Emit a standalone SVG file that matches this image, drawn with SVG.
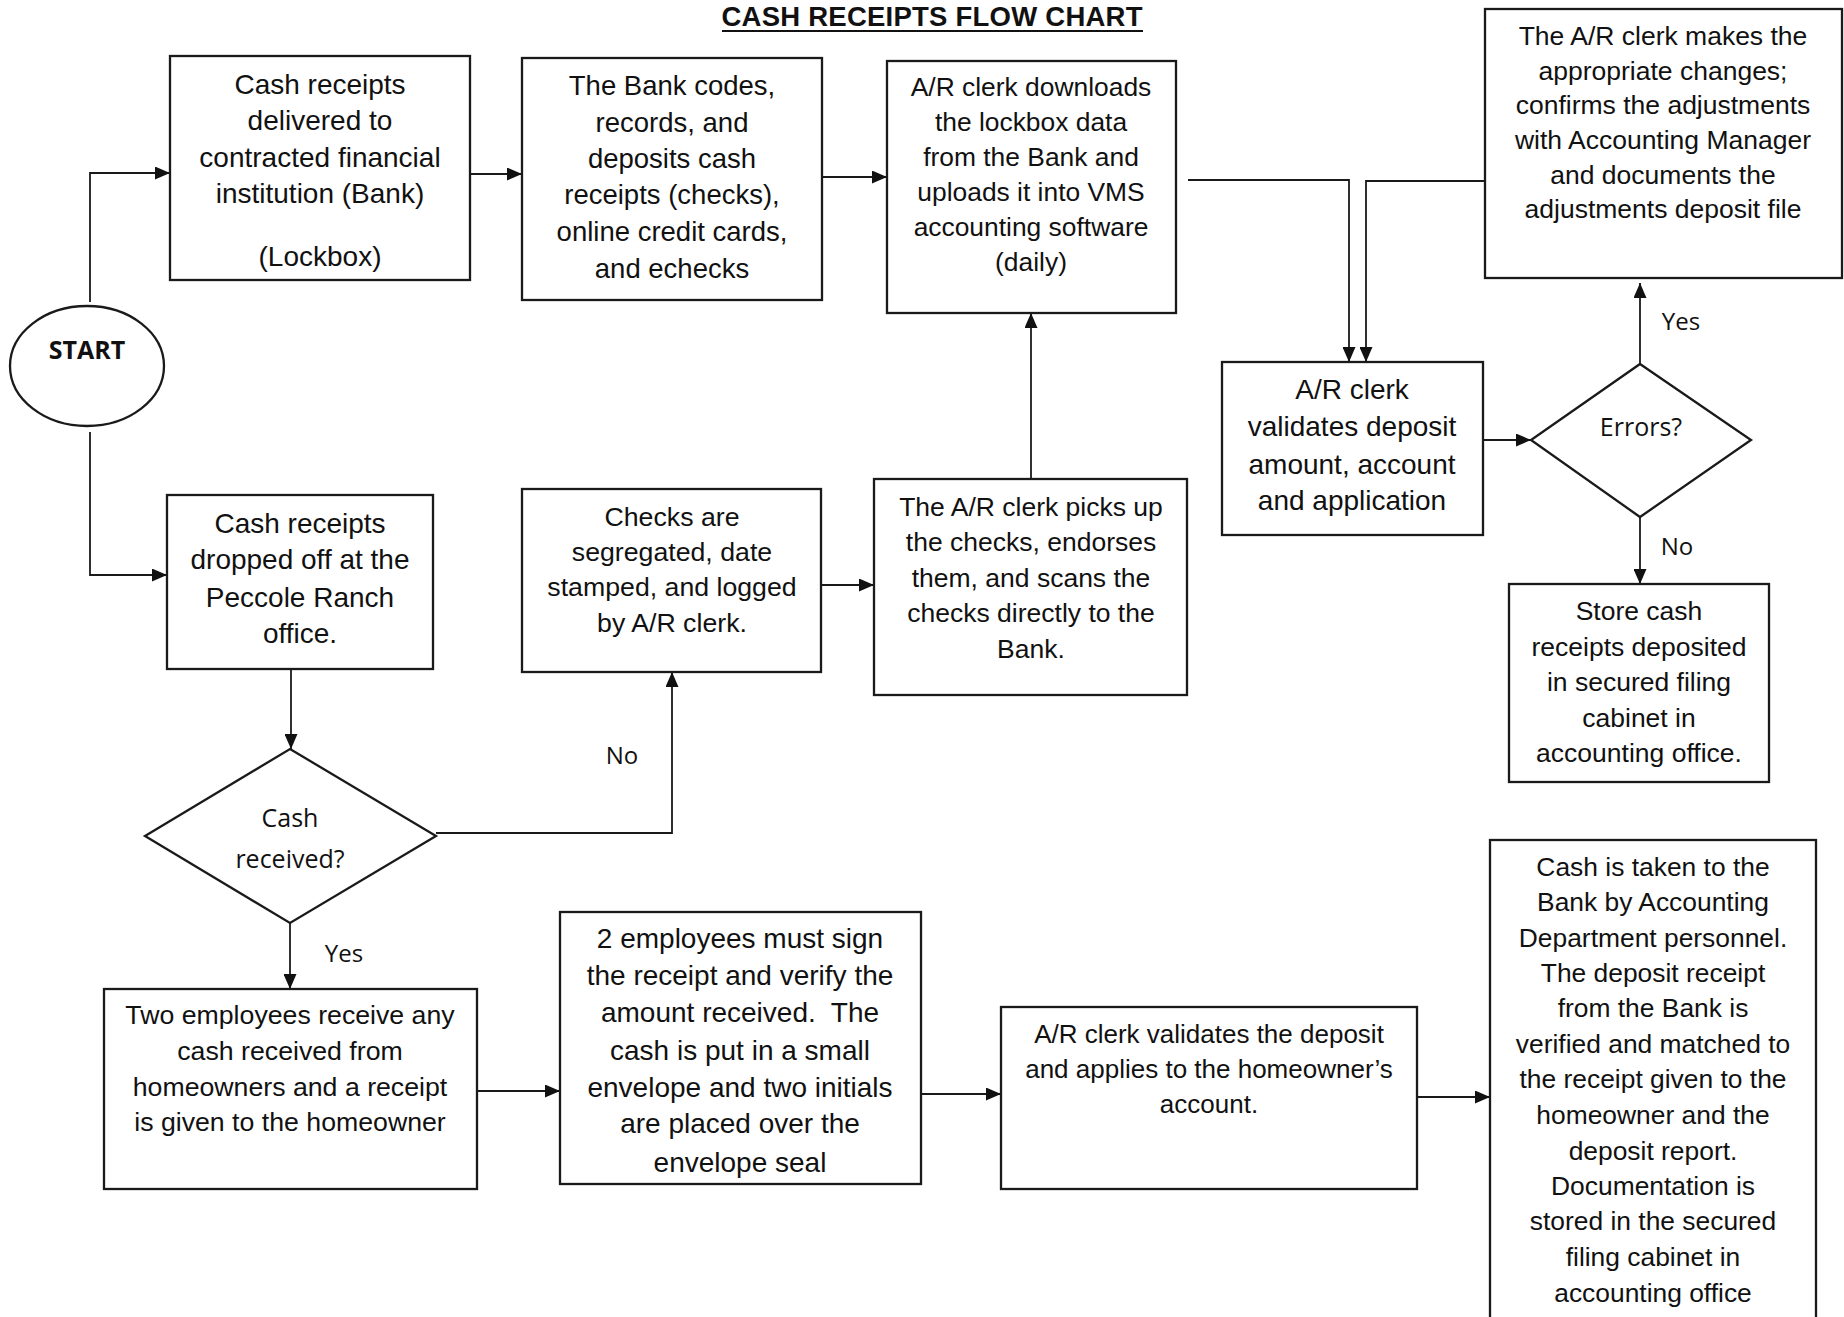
<svg xmlns="http://www.w3.org/2000/svg" width="1844" height="1317" viewBox="0 0 1844 1317">
<style>
.bx{fill:#fff;stroke:#1a1a1a;stroke-width:2.3}
.cn{fill:none;stroke:#1a1a1a;stroke-width:1.8}
.t{font-family:"Liberation Sans",Arial,Helvetica,sans-serif;text-anchor:middle;fill:#111}
.l{font-family:"Open Sans","Noto Sans",sans-serif;text-anchor:middle;fill:#111}
</style>
<defs>
<marker id="ah" viewBox="0 0 15 13" refX="15" refY="6.5" markerWidth="15" markerHeight="13" markerUnits="userSpaceOnUse" orient="auto">
<path d="M0,0 L15,6.5 L0,13 z" fill="#111"/>
</marker>
</defs>
<rect width="1844" height="1317" fill="#fff"/>
<g id="title">
<text class="t" x="932" y="26" font-size="27.5" font-weight="bold" textLength="421" lengthAdjust="spacing">CASH RECEIPTS FLOW CHART</text>
<line x1="722" y1="31" x2="1143" y2="31" stroke="#111" stroke-width="2"/>
</g>
<g id="connectors">
<path class="cn" d="M90,302 V173 H170" marker-end="url(#ah)"/>
<path class="cn" d="M470,174 H522" marker-end="url(#ah)"/>
<path class="cn" d="M822,177 H887" marker-end="url(#ah)"/>
<path class="cn" d="M1188,180 H1349 V362" marker-end="url(#ah)"/>
<path class="cn" d="M1485,181 H1366 V362" marker-end="url(#ah)"/>
<path class="cn" d="M1484,440 H1531" marker-end="url(#ah)"/>
<path class="cn" d="M1640,364 V283" marker-end="url(#ah)"/>
<path class="cn" d="M1640,517 V584" marker-end="url(#ah)"/>
<path class="cn" d="M90,432 V575 H167" marker-end="url(#ah)"/>
<path class="cn" d="M291,669 V749" marker-end="url(#ah)"/>
<path class="cn" d="M436,833 H672 V672" marker-end="url(#ah)"/>
<path class="cn" d="M821,585 H874" marker-end="url(#ah)"/>
<path class="cn" d="M1031,479 V313" marker-end="url(#ah)"/>
<path class="cn" d="M290,923 V989" marker-end="url(#ah)"/>
<path class="cn" d="M477,1091 H560" marker-end="url(#ah)"/>
<path class="cn" d="M921,1094 H1001" marker-end="url(#ah)"/>
<path class="cn" d="M1417,1097 H1490" marker-end="url(#ah)"/>
<text class="l" x="1681" y="330" font-size="24">Yes</text>
<text class="l" x="1677" y="555" font-size="24">No</text>
<text class="l" x="622" y="764" font-size="24">No</text>
<text class="l" x="344" y="962" font-size="24">Yes</text>
</g>
<g id="start">
<ellipse cx="87" cy="366" rx="77" ry="60" fill="#fff" stroke="#1a1a1a" stroke-width="2.3"/>
<text class="l" x="87" y="359" font-size="25" font-weight="bold">START</text>
</g>
<g id="n1">
<rect class="bx" x="170" y="56" width="300" height="224"/>
<text class="t" font-size="28"><tspan x="320" y="94">Cash receipts</tspan><tspan x="320" y="130">delivered to</tspan><tspan x="320" y="167">contracted financial</tspan><tspan x="320" y="203">institution (Bank)</tspan><tspan x="320" y="266">(Lockbox)</tspan></text>
</g>
<g id="n2">
<rect class="bx" x="522" y="58" width="300" height="242"/>
<text class="t" font-size="27.5"><tspan x="672" y="95">The Bank codes,</tspan><tspan x="672" y="132">records, and</tspan><tspan x="672" y="168">deposits cash</tspan><tspan x="672" y="204">receipts (checks),</tspan><tspan x="672" y="241">online credit cards,</tspan><tspan x="672" y="278">and echecks</tspan></text>
</g>
<g id="n3">
<rect class="bx" x="887" y="61" width="289" height="252"/>
<text class="t" font-size="26.4"><tspan x="1031" y="96">A/R clerk downloads</tspan><tspan x="1031" y="131">the lockbox data</tspan><tspan x="1031" y="166">from the Bank and</tspan><tspan x="1031" y="201">uploads it into VMS</tspan><tspan x="1031" y="236">accounting software</tspan><tspan x="1031" y="271">(daily)</tspan></text>
</g>
<g id="n4">
<rect class="bx" x="1485" y="9" width="357" height="269"/>
<text class="t" font-size="26.5"><tspan x="1663" y="45">The A/R clerk makes the</tspan><tspan x="1663" y="80">appropriate changes;</tspan><tspan x="1663" y="114">confirms the adjustments</tspan><tspan x="1663" y="149">with Accounting Manager</tspan><tspan x="1663" y="184">and documents the</tspan><tspan x="1663" y="218">adjustments deposit file</tspan></text>
</g>
<g id="n5">
<rect class="bx" x="1222" y="362" width="261" height="173"/>
<text class="t" font-size="28"><tspan x="1352" y="399">A/R clerk</tspan><tspan x="1352" y="436">validates deposit</tspan><tspan x="1352" y="474">amount, account</tspan><tspan x="1352" y="510">and application</tspan></text>
</g>
<g id="d2">
<polygon points="1640,364 1751,440 1640,517 1531,440" fill="#fff" stroke="#1a1a1a" stroke-width="2.3"/>
<text class="l" x="1641" y="436" font-size="25">Errors?</text>
</g>
<g id="n6">
<rect class="bx" x="1509" y="584" width="260" height="198"/>
<text class="t" font-size="26.5"><tspan x="1639" y="620">Store cash</tspan><tspan x="1639" y="656">receipts deposited</tspan><tspan x="1639" y="691">in secured filing</tspan><tspan x="1639" y="727">cabinet in</tspan><tspan x="1639" y="762">accounting office.</tspan></text>
</g>
<g id="n7">
<rect class="bx" x="874" y="479" width="313" height="216"/>
<text class="t" font-size="26.5"><tspan x="1031" y="516">The A/R clerk picks up</tspan><tspan x="1031" y="551">the checks, endorses</tspan><tspan x="1031" y="587">them, and scans the</tspan><tspan x="1031" y="622">checks directly to the</tspan><tspan x="1031" y="658">Bank.</tspan></text>
</g>
<g id="n8">
<rect class="bx" x="522" y="489" width="299" height="183"/>
<text class="t" font-size="26.7"><tspan x="672" y="526">Checks are</tspan><tspan x="672" y="561">segregated, date</tspan><tspan x="672" y="596">stamped, and logged</tspan><tspan x="672" y="632">by A/R clerk.</tspan></text>
</g>
<g id="n9">
<rect class="bx" x="167" y="495" width="266" height="174"/>
<text class="t" font-size="28"><tspan x="300" y="533">Cash receipts</tspan><tspan x="300" y="569">dropped off at the</tspan><tspan x="300" y="607">Peccole Ranch</tspan><tspan x="300" y="643">office.</tspan></text>
</g>
<g id="d1">
<polygon points="290,749 436,836 290,923 145,836" fill="#fff" stroke="#1a1a1a" stroke-width="2.3"/>
<text class="l" font-size="25"><tspan x="290" y="827">Cash</tspan><tspan x="290" y="868">received?</tspan></text>
</g>
<g id="n10">
<rect class="bx" x="104" y="989" width="373" height="200"/>
<text class="t" font-size="26.7"><tspan x="290" y="1024">Two employees receive any</tspan><tspan x="290" y="1060">cash received from</tspan><tspan x="290" y="1096">homeowners and a receipt</tspan><tspan x="290" y="1131">is given to the homeowner</tspan></text>
</g>
<g id="n11">
<rect class="bx" x="560" y="912" width="361" height="272"/>
<text class="t" font-size="28" xml:space="preserve"><tspan x="740" y="948">2 employees must sign</tspan><tspan x="740" y="985">the receipt and verify the</tspan><tspan x="740" y="1022">amount received.  The</tspan><tspan x="740" y="1060">cash is put in a small</tspan><tspan x="740" y="1097">envelope and two initials</tspan><tspan x="740" y="1133">are placed over the</tspan><tspan x="740" y="1172">envelope seal</tspan></text>
</g>
<g id="n12">
<rect class="bx" x="1001" y="1007" width="416" height="182"/>
<text class="t" font-size="26"><tspan x="1209" y="1043">A/R clerk validates the deposit</tspan><tspan x="1209" y="1078">and applies to the homeowner’s</tspan><tspan x="1209" y="1113">account.</tspan></text>
</g>
<g id="n13">
<rect class="bx" x="1490" y="840" width="326" height="500"/>
<text class="t" font-size="26.4"><tspan x="1653" y="876">Cash is taken to the</tspan><tspan x="1653" y="911">Bank by Accounting</tspan><tspan x="1653" y="947">Department personnel.</tspan><tspan x="1653" y="982">The deposit receipt</tspan><tspan x="1653" y="1017">from the Bank is</tspan><tspan x="1653" y="1053">verified and matched to</tspan><tspan x="1653" y="1088">the receipt given to the</tspan><tspan x="1653" y="1124">homeowner and the</tspan><tspan x="1653" y="1160">deposit report.</tspan><tspan x="1653" y="1195">Documentation is</tspan><tspan x="1653" y="1230">stored in the secured</tspan><tspan x="1653" y="1266">filing cabinet in</tspan><tspan x="1653" y="1302">accounting office</tspan></text>
</g>
</svg>
